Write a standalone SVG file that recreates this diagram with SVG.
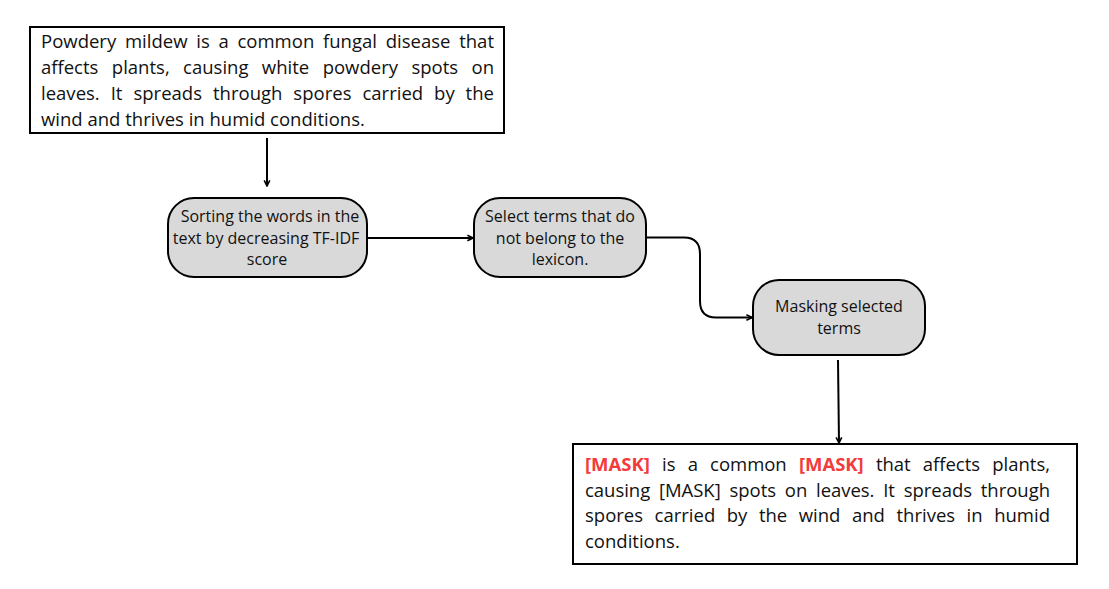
<svg xmlns="http://www.w3.org/2000/svg" width="1109" height="589" viewBox="0 0 1109 589">
<style>
.box{fill:#fff;stroke:#000;stroke-width:2}
.node{fill:#d9d9d9;stroke:#000;stroke-width:2}
.t{font-family:"Open Sans","Noto Sans",sans-serif;fill:#111}
.p{font-size:18.5px}
.n{font-size:16px;text-anchor:middle}
.m{fill:#f33b3b;font-weight:bold}
.c{fill:none;stroke:#000;stroke-width:2}
</style>
<defs>
<marker id="a" viewBox="0 0 10 10" refX="9" refY="5" markerWidth="8" markerHeight="8" orient="auto" markerUnits="userSpaceOnUse">
<path d="M2,1.5 L9,5 L2,8.5" fill="none" stroke="#000" stroke-width="2"/>
</marker>
</defs>
<rect width="1109" height="589" fill="#fff"/>
<g id="input">
<rect class="box" x="30" y="27" width="474" height="106"/>
<text class="t p" x="41" y="48" word-spacing="3.9" textLength="453" lengthAdjust="spacing">Powdery mildew is a common fungal disease that</text>
<text class="t p" x="41" y="74" word-spacing="8.6" textLength="453" lengthAdjust="spacing">affects plants, causing white powdery spots on</text>
<text class="t p" x="41" y="100" word-spacing="6.1" textLength="453" lengthAdjust="spacing">leaves. It spreads through spores carried by the</text>
<text class="t p" x="41" y="125.5">wind and thrives in humid conditions.</text>
</g>
<g id="sort">
<rect class="node" x="168" y="198" width="199" height="79" rx="26"/>
<text class="t n" x="270" y="222">Sorting the words in the</text>
<text class="t n" x="266" y="243.5">text by decreasing TF-IDF</text>
<text class="t n" x="267" y="265">score</text>
</g>
<g id="select">
<rect class="node" x="474" y="198" width="172" height="79" rx="26"/>
<text class="t n" x="560" y="222">Select terms that do</text>
<text class="t n" x="560" y="243.5">not belong to the</text>
<text class="t n" x="560" y="265">lexicon.</text>
</g>
<g id="mask">
<rect class="node" x="753" y="280" width="172" height="75" rx="26"/>
<text class="t n" x="839" y="312">Masking selected</text>
<text class="t n" x="839" y="334">terms</text>
</g>
<g id="output">
<rect class="box" x="573" y="444" width="504" height="120"/>
<text class="t p" x="585" y="470.5" word-spacing="7.4" textLength="465" lengthAdjust="spacing"><tspan class="m">[MASK]</tspan> is a common <tspan class="m">[MASK]</tspan> that affects plants,</text>
<text class="t p" x="585" y="496.5" word-spacing="4" textLength="465" lengthAdjust="spacing">causing [MASK] spots on leaves. It spreads through</text>
<text class="t p" x="585" y="522" word-spacing="6.7" textLength="465" lengthAdjust="spacing">spores carried by the wind and thrives in humid</text>
<text class="t p" x="585" y="548">conditions.</text>
</g>
<g id="connectors">
<path class="c" d="M267,138 V186" marker-end="url(#a)"/>
<path class="c" d="M367,238 H473" marker-end="url(#a)"/>
<path class="c" d="M646,237.5 H684 Q700,237.5 700,254 V301 Q700,317.5 716,317.5 H752" marker-end="url(#a)"/>
<path class="c" d="M838,360 L839,443" marker-end="url(#a)"/>
</g>
</svg>
